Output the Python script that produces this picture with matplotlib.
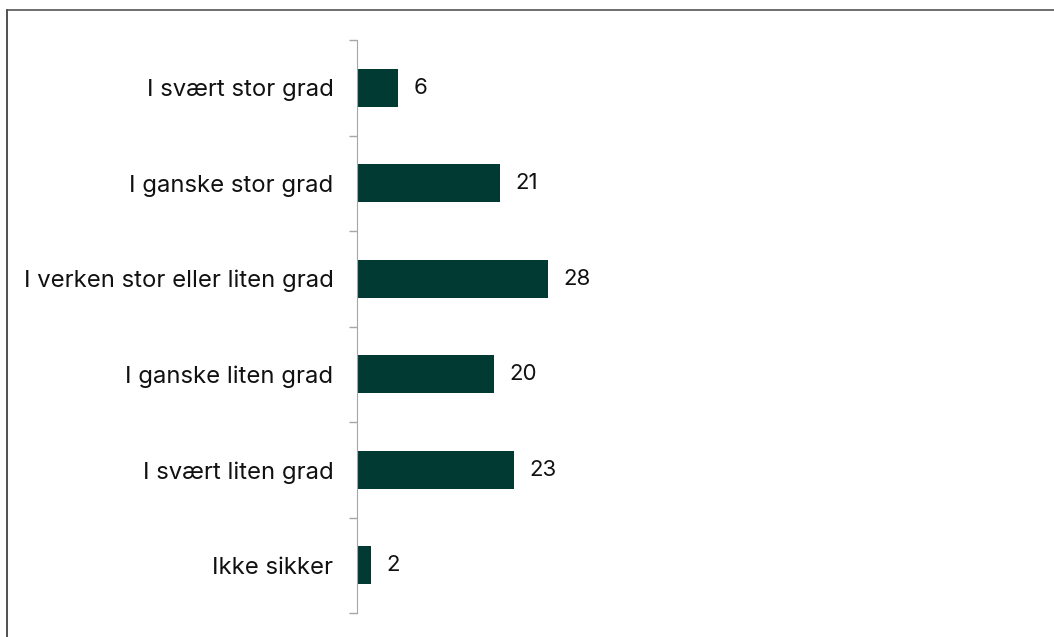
import numpy as np
import matplotlib.pyplot as plt
from matplotlib.lines import Line2D

# data
categories = ["I svært stor grad", "I ganske stor grad", "I verken stor eller liten grad",
              "I ganske liten grad", "I svært liten grad", "Ikke sikker"]
values = [6, 21, 28, 20, 23, 2]

plt.rcParams['font.family'] = ['Inter', 'DejaVu Sans']

fig = plt.figure(figsize=(10.54, 6.37), dpi=100)
ax = fig.add_axes([357 / 1054, 1 - 613 / 637, 683 / 1054, 573 / 637])

pos = np.arange(len(categories))
ax.barh(pos, values, height=0.4, color="#003A33")

for p, v in zip(pos, values):
    ax.annotate(str(v), (v, p), xytext=(11, 0), textcoords="offset points",
                va="center", ha="left", fontsize=16, color="#111111")

ax.set_xlim(0, 100)
ax.set_ylim(len(categories) - 0.5, -0.5)

ax.set_yticks(pos)
ax.set_yticklabels(categories, fontsize=17.2, color="#111111")
ax.tick_params(axis="y", which="major", length=0, pad=17)
ax.set_yticks(np.arange(-0.5, len(categories), 1.0), minor=True)
ax.tick_params(axis="y", which="minor", length=6, color="#A6A6A6", width=1)
ax.set_xticks([])

for s in ["top", "right", "bottom"]:
    ax.spines[s].set_visible(False)
ax.spines["left"].set_color("#A6A6A6")

# outer frame (only left and top visible in the crop)
fig.add_artist(Line2D([7 / 1054, 7 / 1054], [0, 1 - 10 / 637], transform=fig.transFigure,
                      color="#333333", lw=1.2))
fig.add_artist(Line2D([7 / 1054, 1], [1 - 10 / 637, 1 - 10 / 637], transform=fig.transFigure,
                      color="#555555", lw=1.2))

fig.savefig("out.png", dpi=100)
